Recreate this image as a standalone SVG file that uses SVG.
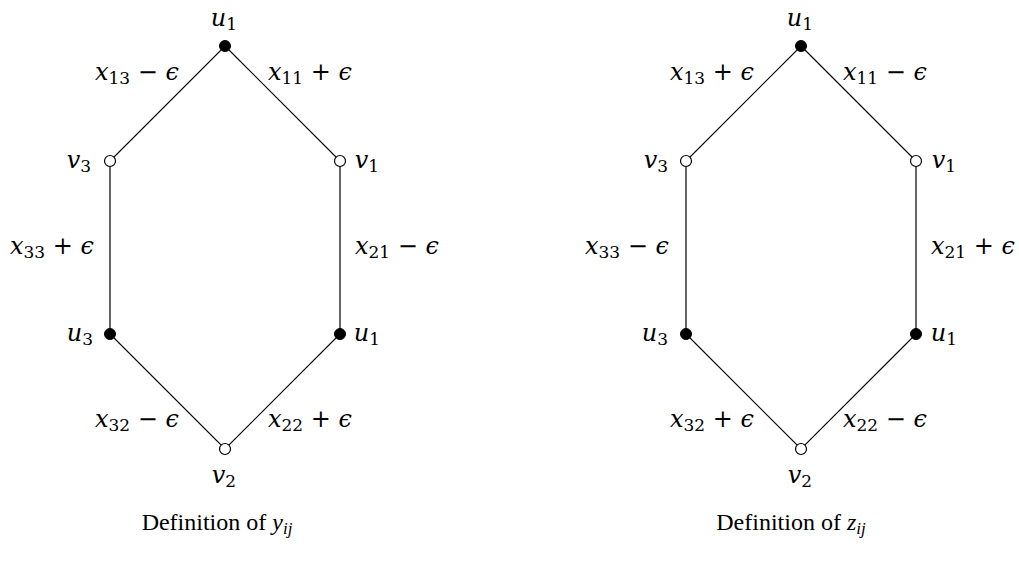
<svg xmlns="http://www.w3.org/2000/svg" width="1019" height="561" viewBox="0 0 1019 561">
<style>
text{font-family:'DejaVu Serif',serif;font-size:24px;fill:#000;text-anchor:middle}
.i{font-style:italic}
.s{font-size:17px;font-style:normal}
.si{font-size:17px;font-style:italic}
.cap{font-family:'Liberation Serif',serif;font-size:24px}
.e{stroke:#000;stroke-width:1.2;fill:none}
.f{fill:#000;stroke:#000;stroke-width:1}
.o{fill:#fff;stroke:#000;stroke-width:1.2}
</style>
<rect width="1019" height="561" fill="#fff"/>
<g id="connectors">
<polygon class="e" points="225,46 340,161 340,334 225,449 110,334 110,161"/>
<polygon class="e" points="801,46 916,161 916,334 801,449 686,334 686,161"/>
</g>
<g id="left">
<g id="L-u1top"><circle class="f" cx="225" cy="46" r="5.5"/><text x="224" y="26"><tspan class="i">u</tspan><tspan class="s" dy="4">1</tspan></text></g>
<g id="L-v3"><circle class="o" cx="110" cy="161" r="5.5"/><text x="79" y="168"><tspan class="i">v</tspan><tspan class="s" dy="4">3</tspan></text></g>
<g id="L-v1"><circle class="o" cx="340" cy="161" r="5.5"/><text x="367" y="168"><tspan class="i">v</tspan><tspan class="s" dy="4">1</tspan></text></g>
<g id="L-u3"><circle class="f" cx="110" cy="334" r="5.5"/><text x="80" y="341"><tspan class="i">u</tspan><tspan class="s" dy="4">3</tspan></text></g>
<g id="L-u1"><circle class="f" cx="340" cy="334" r="5.5"/><text x="367" y="341"><tspan class="i">u</tspan><tspan class="s" dy="4">1</tspan></text></g>
<g id="L-v2"><circle class="o" cx="225" cy="449" r="5.5"/><text x="224" y="483"><tspan class="i">v</tspan><tspan class="s" dy="4">2</tspan></text></g>
<text x="137" y="80"><tspan class="i">x</tspan><tspan class="s" dy="4">13</tspan><tspan dy="-4"> − </tspan><tspan class="i">ϵ</tspan></text>
<text x="310" y="80"><tspan class="i">x</tspan><tspan class="s" dy="4">11</tspan><tspan dy="-4"> + </tspan><tspan class="i">ϵ</tspan></text>
<text x="52" y="254"><tspan class="i">x</tspan><tspan class="s" dy="4">33</tspan><tspan dy="-4"> + </tspan><tspan class="i">ϵ</tspan></text>
<text x="397" y="254"><tspan class="i">x</tspan><tspan class="s" dy="4">21</tspan><tspan dy="-4"> − </tspan><tspan class="i">ϵ</tspan></text>
<text x="137" y="427"><tspan class="i">x</tspan><tspan class="s" dy="4">32</tspan><tspan dy="-4"> − </tspan><tspan class="i">ϵ</tspan></text>
<text x="310" y="427"><tspan class="i">x</tspan><tspan class="s" dy="4">22</tspan><tspan dy="-4"> + </tspan><tspan class="i">ϵ</tspan></text>
<text class="cap" x="217" y="530">Definition of <tspan class="i">y</tspan><tspan class="si" dy="4">ij</tspan></text>
</g>
<g id="right">
<g id="R-u1top"><circle class="f" cx="801" cy="46" r="5.5"/><text x="800" y="26"><tspan class="i">u</tspan><tspan class="s" dy="4">1</tspan></text></g>
<g id="R-v3"><circle class="o" cx="686" cy="161" r="5.5"/><text x="656" y="168"><tspan class="i">v</tspan><tspan class="s" dy="4">3</tspan></text></g>
<g id="R-v1"><circle class="o" cx="916" cy="161" r="5.5"/><text x="944" y="168"><tspan class="i">v</tspan><tspan class="s" dy="4">1</tspan></text></g>
<g id="R-u3"><circle class="f" cx="686" cy="334" r="5.5"/><text x="655" y="341"><tspan class="i">u</tspan><tspan class="s" dy="4">3</tspan></text></g>
<g id="R-u1"><circle class="f" cx="916" cy="334" r="5.5"/><text x="944" y="341"><tspan class="i">u</tspan><tspan class="s" dy="4">1</tspan></text></g>
<g id="R-v2"><circle class="o" cx="801" cy="449" r="5.5"/><text x="800" y="483"><tspan class="i">v</tspan><tspan class="s" dy="4">2</tspan></text></g>
<text x="712" y="80"><tspan class="i">x</tspan><tspan class="s" dy="4">13</tspan><tspan dy="-4"> + </tspan><tspan class="i">ϵ</tspan></text>
<text x="885" y="80"><tspan class="i">x</tspan><tspan class="s" dy="4">11</tspan><tspan dy="-4"> − </tspan><tspan class="i">ϵ</tspan></text>
<text x="627" y="254"><tspan class="i">x</tspan><tspan class="s" dy="4">33</tspan><tspan dy="-4"> − </tspan><tspan class="i">ϵ</tspan></text>
<text x="973" y="254"><tspan class="i">x</tspan><tspan class="s" dy="4">21</tspan><tspan dy="-4"> + </tspan><tspan class="i">ϵ</tspan></text>
<text x="712" y="427"><tspan class="i">x</tspan><tspan class="s" dy="4">32</tspan><tspan dy="-4"> + </tspan><tspan class="i">ϵ</tspan></text>
<text x="885" y="427"><tspan class="i">x</tspan><tspan class="s" dy="4">22</tspan><tspan dy="-4"> − </tspan><tspan class="i">ϵ</tspan></text>
<text class="cap" x="791" y="530">Definition of <tspan class="i">z</tspan><tspan class="si" dy="4">ij</tspan></text>
</g>
</svg>
